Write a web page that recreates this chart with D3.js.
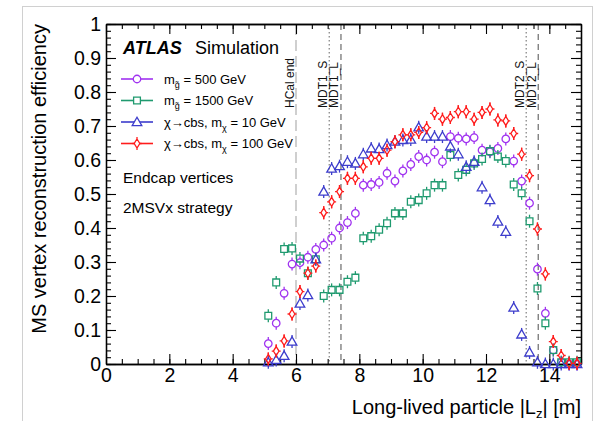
<!DOCTYPE html>
<html>
<head>
<meta charset="utf-8">
<script src="https://cdn.jsdelivr.net/npm/d3@7"></script>
<style>
  body { margin: 0; background: #fff; }
  svg text { font-family: "Liberation Sans", Arial, Helvetica, sans-serif; }
</style>
</head>
<body>
<svg width="600" height="421"></svg>
<script>
// bin centres of |Lz| [m]
var binCenters = [5.125, 5.375, 5.625, 5.875, 6.125, 6.375, 6.625, 6.875, 7.125, 7.375,
  7.625, 7.875, 8.125, 8.375, 8.625, 8.875, 9.125, 9.375, 9.625, 9.875,
  10.125, 10.375, 10.625, 10.875, 11.125, 11.375, 11.625, 11.875, 12.125, 12.375,
  12.625, 12.875, 13.125, 13.375, 13.625, 13.875, 14.125, 14.375, 14.625, 14.875];

var effGluino500 = [0.06, 0.12, 0.208, 0.294, 0.298, 0.314, 0.337, 0.35, 0.37, 0.40,
  0.416, 0.443, 0.526, 0.528, 0.534, 0.561, 0.538, 0.568, 0.587, 0.61,
  0.60, 0.623, 0.595, 0.669, 0.664, 0.662, 0.666, 0.629, 0.624, 0.634,
  0.662, 0.597, 0.538, 0.473, 0.279, 0.149, 0.041, 0.005, 0.0, 0.0];

var effGluino1500 = [0.142, 0.24, 0.338, 0.34, 0.31, 0.267, 0.308, 0.20, 0.218, 0.218,
  0.242, 0.254, 0.37, 0.376, 0.395, 0.414, 0.443, 0.443, 0.477, 0.482,
  0.502, 0.526, 0.526, 0.615, 0.556, 0.571, 0.59, 0.603, 0.626, 0.61,
  0.597, 0.528, 0.502, 0.42, 0.222, 0.12, 0.041, 0.005, 0.005, 0.005];

var effChi10 = [0.005, 0.012, 0.024, 0.066, 0.178, 0.203, 0.308, 0.507, 0.575, 0.582,
  0.595, 0.59, 0.617, 0.634, 0.632, 0.644, 0.654, 0.659, 0.66, 0.696,
  0.669, 0.669, 0.669, 0.64, 0.617, 0.58, 0.595, 0.52, 0.482, 0.419,
  0.389, 0.166, 0.087, 0.034, 0.005, 0.0, 0.0, 0.0, 0.0, 0.0];

var effChi100 = [0.015, 0.038, 0.068, 0.147, 0.213, 0.267, 0.288, 0.445, 0.477, 0.507,
  0.546, 0.546, 0.58, 0.605, 0.605, 0.629, 0.654, 0.674, 0.674, 0.681,
  0.695, 0.737, 0.72, 0.725, 0.742, 0.742, 0.72, 0.74, 0.75, 0.718,
  0.715, 0.678, 0.617, 0.554, 0.397, 0.265, 0.066, 0.025, 0.002, 0.002];

var xTicks = [0, 2, 4, 6, 8, 10, 12, 14];
var yTicks = [0, 0.1, 0.2, 0.3, 0.4, 0.5, 0.6, 0.7, 0.8, 0.9, 1];

// detector boundaries
var boundaries = [
  { name: "HCal end", z: 6.0, kind: "hcal" },
  { name: "MDT1_S", z: 7.05, kind: "dot" },
  { name: "MDT1_L", z: 7.42, kind: "dash" },
  { name: "MDT2_S", z: 13.27, kind: "dot" },
  { name: "MDT2_L", z: 13.65, kind: "dash" }
];

var series = [
  { values: effGluino500, color: "#a033f0", marker: "circle", label: ["m", "g̃", " = 500 GeV"] },
  { values: effGluino1500, color: "#1f9a6f", marker: "square", label: ["m", "g̃", " = 1500 GeV"] },
  { values: effChi10, color: "#3d3dcc", marker: "triangle", label: ["χ→cbs, m", "χ", " = 10 GeV"] },
  { values: effChi100, color: "#ff1c1c", marker: "diamond", label: ["χ→cbs, m", "χ", " = 100 GeV"] }
];

var svg = d3.select("svg"),
  margin = { top: 24, right: 19, bottom: 57, left: 106 },
  width = +svg.attr("width"),
  height = +svg.attr("height");

var x = d3.scaleLinear().domain([0, 15]).range([margin.left, width - margin.right]);
var y = d3.scaleLinear().domain([0, 1]).range([height - margin.bottom, margin.top]);

// outer grey frame of the picture
svg.append("rect")
  .attr("x", 22.5).attr("y", 6.5)
  .attr("width", 570).attr("height", 430)
  .attr("fill", "none").attr("stroke", "#d0d0d0");

// boundary lines
var bl = svg.append("g");
boundaries.forEach(function (b) {
  var line = bl.append("line")
    .attr("x1", x(b.z)).attr("x2", x(b.z))
    .attr("y1", y(1)).attr("y2", y(0));
  if (b.kind === "hcal") {
    line.attr("stroke", "#c4c4c4").attr("stroke-width", 1.6).attr("stroke-dasharray", "11,5");
  } else if (b.kind === "dot") {
    line.attr("stroke", "#888").attr("stroke-width", 1.3).attr("stroke-dasharray", "1.5,2.5");
  } else {
    line.attr("stroke", "#777").attr("stroke-width", 1.3).attr("stroke-dasharray", "6,4");
  }
  bl.append("text")
    .attr("transform", "translate(" + (x(b.z) - 2.5) + ",108) rotate(-90)")
    .attr("font-size", 12)
    .attr("fill", "#111")
    .text(b.name);
});

// axes
function styleAxis(g) {
  g.select(".domain").attr("stroke", "#000").attr("stroke-width", 1.3);
  g.selectAll(".tick line").attr("stroke", "#000").attr("stroke-width", 1.1);
  g.selectAll("text").attr("font-size", 19.5).attr("fill", "#000");
}

var xMinor = d3.range(0, 15.01, 0.5);
var yMinor = d3.range(0, 1.001, 0.02);

svg.append("g")
  .attr("transform", "translate(0," + y(0) + ")")
  .call(d3.axisBottom(x).tickValues(xMinor).tickSize(-5).tickSizeOuter(0).tickFormat(""))
  .call(styleAxis);
svg.append("g")
  .attr("transform", "translate(0," + y(0) + ")")
  .call(d3.axisBottom(x).tickValues(xTicks).tickSize(-10).tickSizeOuter(0).tickPadding(4).tickFormat(d3.format("d")))
  .call(styleAxis);
svg.append("g")
  .attr("transform", "translate(0," + y(1) + ")")
  .call(d3.axisTop(x).tickValues(xMinor).tickSize(-5).tickSizeOuter(0).tickFormat(""))
  .call(styleAxis);
svg.append("g")
  .attr("transform", "translate(0," + y(1) + ")")
  .call(d3.axisTop(x).tickValues(xTicks).tickSize(-10).tickSizeOuter(0).tickFormat(""))
  .call(styleAxis);

svg.append("g")
  .attr("transform", "translate(" + x(0) + ",0)")
  .call(d3.axisLeft(y).tickValues(yMinor).tickSize(-5).tickSizeOuter(0).tickFormat(""))
  .call(styleAxis);
svg.append("g")
  .attr("transform", "translate(" + x(0) + ",0)")
  .call(d3.axisLeft(y).tickValues(yTicks).tickSize(-10).tickSizeOuter(0).tickPadding(5).tickFormat(d3.format("~g")))
  .call(styleAxis);
svg.append("g")
  .attr("transform", "translate(" + x(15) + ",0)")
  .call(d3.axisRight(y).tickValues(yMinor).tickSize(-5).tickSizeOuter(0).tickFormat(""))
  .call(styleAxis);
svg.append("g")
  .attr("transform", "translate(" + x(15) + ",0)")
  .call(d3.axisRight(y).tickValues(yTicks).tickSize(-10).tickSizeOuter(0).tickFormat(""))
  .call(styleAxis);

// axis titles
var xt = svg.append("text")
  .attr("x", x(15)).attr("y", 414)
  .attr("text-anchor", "end")
  .attr("font-size", 20);
xt.append("tspan").text("Long-lived particle |L");
xt.append("tspan").attr("font-size", 13).attr("dy", 4).text("z");
xt.append("tspan").attr("dy", -4).text("| [m]");

svg.append("text")
  .attr("transform", "translate(46," + y(1) + ") rotate(-90)")
  .attr("text-anchor", "end")
  .attr("font-size", 20)
  .text("MS vertex reconstruction efficiency");

// markers
function markerPath(kind) {
  if (kind === "circle") return d3.symbol(d3.symbolCircle, 44)();
  if (kind === "square") return d3.symbol(d3.symbolSquare, 46)();
  if (kind === "triangle") return d3.symbol(d3.symbolTriangle, 40)();
  // open diamond with little bars at its tips
  return "M0,-4.5L2.8,0L0,4.5L-2.8,0Z M0,-6.5V-4.5 M0,4.5V6.5 M-4.5,0H-2.8 M2.8,0H4.5";
}

function drawMarker(g, kind, color) {
  g.append("line")
    .attr("y1", -6.5).attr("y2", -3.5)
    .attr("stroke", color).attr("stroke-width", 1.3);
  g.append("line")
    .attr("y1", 3.5).attr("y2", 6.5)
    .attr("stroke", color).attr("stroke-width", 1.3);
  g.append("path")
    .attr("d", markerPath(kind))
    .attr("transform", kind === "triangle" ? "translate(0,0.8)" : null)
    .attr("fill", "none")
    .attr("stroke", color)
    .attr("stroke-width", 1.3);
}

series.forEach(function (s) {
  var pts = svg.append("g")
    .selectAll("g")
    .data(s.values.map(function (v, i) { return { x: binCenters[i], y: v }; }))
    .enter().append("g")
    .attr("transform", function (d) { return "translate(" + x(d.x) + "," + y(d.y) + ")"; });
  pts.each(function () { drawMarker(d3.select(this), s.marker, s.color); });
});

// legend
svg.append("text")
  .attr("x", 123).attr("y", 54)
  .attr("font-size", 18).attr("font-weight", "bold").attr("font-style", "italic")
  .text("ATLAS");
svg.append("text")
  .attr("x", 195).attr("y", 54)
  .attr("font-size", 18)
  .text("Simulation");

var legendY = [79, 100.5, 122, 143.5];
series.forEach(function (s, i) {
  var g = svg.append("g").attr("transform", "translate(0," + legendY[i] + ")");
  g.append("line")
    .attr("x1", 121).attr("x2", 153)
    .attr("stroke", s.color).attr("stroke-width", 1.6);
  var m = g.append("g").attr("transform", "translate(137,0)");
  m.append("path")
    .attr("d", markerPath(s.marker))
    .attr("transform", s.marker === "triangle" ? "translate(0,0.8)" : null)
    .attr("fill", "#fff")
    .attr("stroke", s.color)
    .attr("stroke-width", 1.3);
  var t = g.append("text")
    .attr("x", 164).attr("y", 4.5)
    .attr("font-size", 13);
  t.append("tspan").text(s.label[0]);
  t.append("tspan").attr("font-size", 9).attr("dy", 4).text(s.label[1]);
  t.append("tspan").attr("dy", -4).text(s.label[2]);
});

svg.append("text")
  .attr("x", 123).attr("y", 183)
  .attr("font-size", 15.5)
  .text("Endcap vertices");
svg.append("text")
  .attr("x", 123).attr("y", 213)
  .attr("font-size", 15.5)
  .text("2MSVx strategy");
</script>
</body>
</html>
